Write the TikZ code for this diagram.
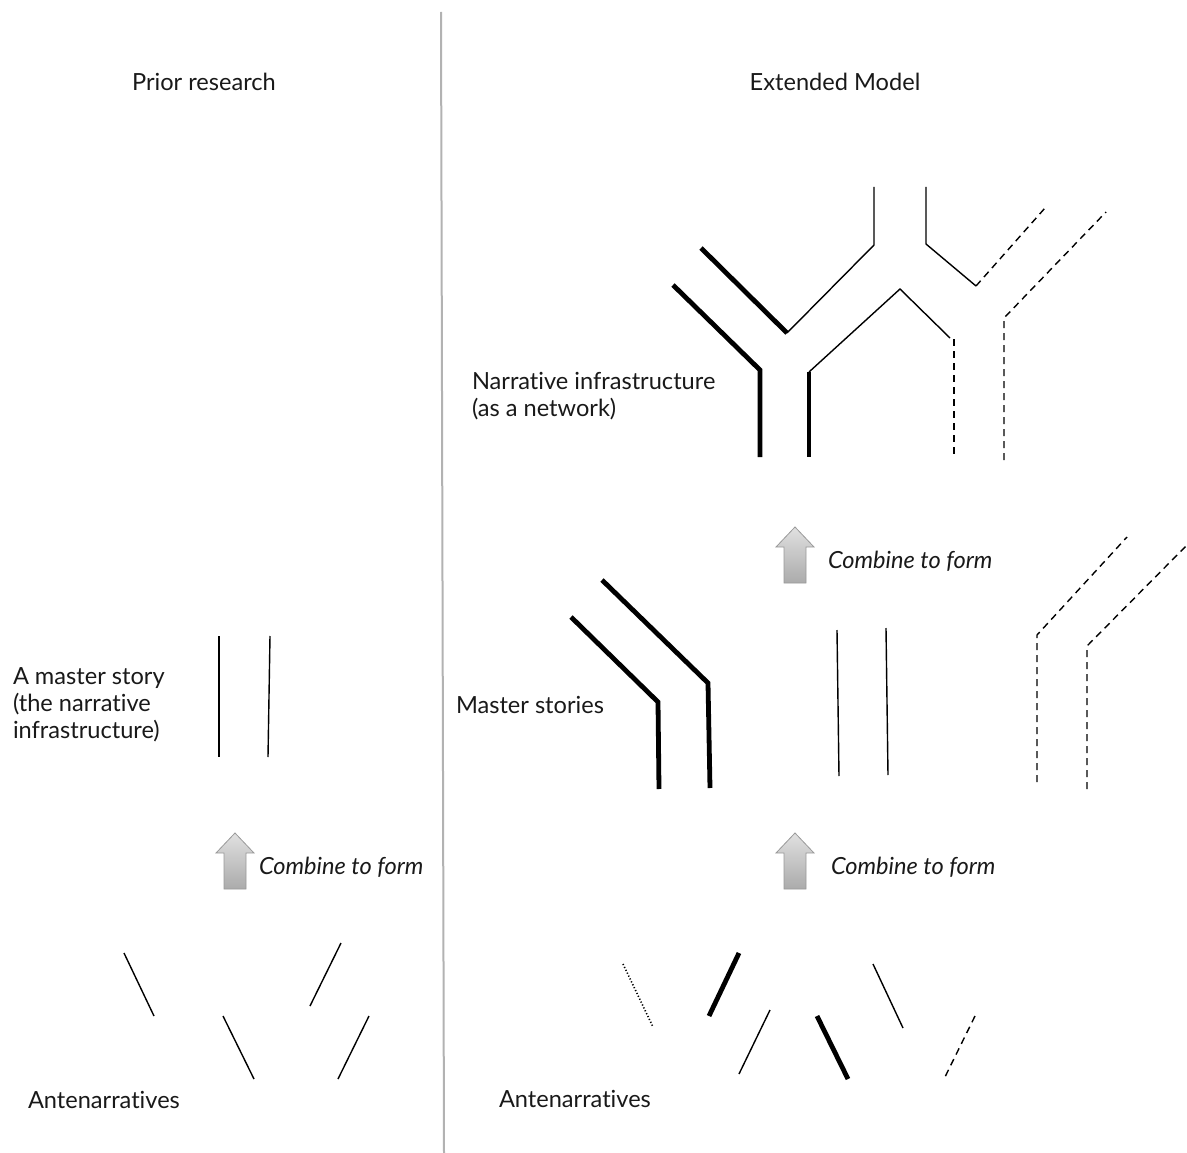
\documentclass[tikz,border=0pt]{standalone}
\usepackage{fontspec}
\setmainfont{Lato}[Ligatures={NoCommon}]
\begin{document}
\begin{tikzpicture}[x=1pt,y=-1pt,
  every node/.style={inner sep=0pt, outer sep=0pt, text=black!90, font=\fontsize{23.6}{27}\selectfont},
  label/.style={anchor=west, align=left},
  caption/.style={anchor=west, font=\fontsize{23.6}{27}\selectfont\itshape},
  thinline/.style={line width=1.4pt, line cap=butt},
  thickline/.style={line width=4.8pt, line cap=butt},
  dashline/.style={line width=1.4pt, dash pattern=on 7pt off 5pt},
  dotline/.style={line width=1.6pt, dash pattern=on 1.2pt off 2pt},
  uparrow/.pic={
    \shade[top color=black!12, bottom color=black!33, draw=black!40, line width=0.8pt]
      (0,0) -- (19,20) -- (11,20) -- (11,56) -- (-11,56) -- (-11,20) -- (-19,20) -- cycle;
  }]
\useasboundingbox (0,0) rectangle (1187,1153);

% divider between the two columns
\draw[black!30, line width=2pt] (441,12) -- (444,1153);

% column titles
\node (titleL) at (204,82) {Prior research};
\node (titleR) at (835,82) {Extended Model};

% ---------- left column ----------
\node[label] (masterL) at (13,705) {A master story\\(the narrative\\infrastructure)};
\draw[thinline] (219,636) -- (219,757);
\draw[thinline] (270,636) -- (268,757);

\pic at (235,833) {uparrow};
\node[caption] (combL) at (259,867) {Combine to form};

\draw[thinline] (124,953) -- (154,1016);
\draw[thinline] (341,943) -- (310,1006);
\draw[thinline] (223,1016) -- (254,1079);
\draw[thinline] (369,1016) -- (338,1079);
\node[label] (anteL) at (28,1100) {Antenarratives};

% ---------- right column ----------
% narrative infrastructure as a network
\node[label] (netR) at (472,396) {Narrative infrastructure\\(as a network)};
\draw[thickline] (701,248) -- (787,333);
\draw[thinline] (787,333) -- (874,245) -- (874,187);
\draw[thinline] (926,187) -- (926,244) -- (976,286);
\draw[dashline] (976,286) -- (1045,208);
\draw[thickline] (673,285) -- (760,370) -- (760,457);
\draw[thickline] (809,372) -- (809,457);
\draw[thinline] (809,372) -- (900,289) -- (950,338);
\draw[dashline] (954,339) -- (954,457);
\draw[dashline] (1004,460) -- (1004,318) -- (1106,212);

\pic at (795,527) {uparrow};
\node[caption] (combR1) at (828,561) {Combine to form};

% master stories
\node[label] (masterR) at (456,705) {Master stories};
\draw[thickline] (571,617) -- (658,702) -- (659,789);
\draw[thickline] (602,580) -- (708,683) -- (710,788);
\draw[thinline] (837,630) -- (839,776);
\draw[thinline] (886,628) -- (888,775);
\draw[dashline] (1037,782) -- (1037,635) -- (1127,537);
\draw[dashline] (1087,789) -- (1087,646) -- (1189,543);

\pic at (795,833) {uparrow};
\node[caption] (combR2) at (831,867) {Combine to form};

% antenarratives
\draw[dotline] (623,964) -- (653,1027);
\draw[thickline] (739,953) -- (709,1016);
\draw[thinline] (770,1010) -- (739,1074);
\draw[thickline] (817,1016) -- (848,1079);
\draw[thinline] (873,964) -- (903,1028);
\draw[dashline] (975,1016) -- (944,1079);
\node[label] (anteR) at (499,1099) {Antenarratives};
\end{tikzpicture}
\end{document}
